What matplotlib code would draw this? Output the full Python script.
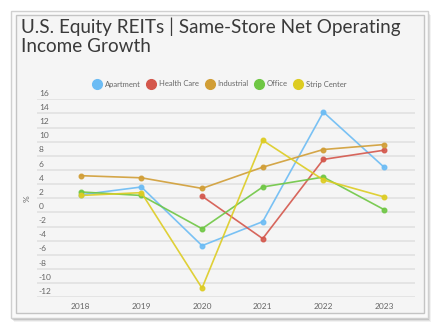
import matplotlib
matplotlib.use('Agg')
import matplotlib.pyplot as plt
from matplotlib.patches import Rectangle
from matplotlib.lines import Line2D

plt.rcParams['font.family'] = ['Lato', 'DejaVu Sans']

years = [2018, 2019, 2020, 2021, 2022, 2023]
apartment = [2.5, 3.6, -4.7, -1.3, 14.2, 6.4]
health_care_years = [2020, 2021, 2022, 2023]
health_care = [2.3, -3.7, 7.5, 8.8]
industrial = [5.2, 4.9, 3.4, 6.4, 8.9, 9.6]
office = [2.9, 2.4, -2.3, 3.6, 5.0, 0.4]
strip_center = [2.4, 2.8, -10.7, 10.2, 4.6, 2.2]

y_ticks = list(range(-12, 17, 2))

names = ['Apartment', 'Health Care', 'Industrial', 'Office', 'Strip Center']
colors = ['#6cbcf4', '#d4574c', '#d19e36', '#6fc744', '#ddcc22']

fig = plt.figure(figsize=(4.41, 3.31), dpi=100)
W, H = 441, 331

# card with soft shadow
for i, a in enumerate([0.05, 0.08, 0.12]):
    o = 3 - i
    fig.patches.append(Rectangle(((11 + o)/W, 1 - (318 + o + 1)/H), 417/W, 307/H,
                                 transform=fig.transFigure, facecolor='black',
                                 alpha=a, edgecolor='none', zorder=0))
fig.patches.append(Rectangle((11/W, 1 - 318/H), 417/W, 307/H, transform=fig.transFigure,
                             facecolor='#fafafa', edgecolor='#d0d0d0', lw=1, zorder=1))
fig.patches.append(Rectangle((16/W, 1 - 313/H), 408/W, 298/H, transform=fig.transFigure,
                             facecolor='#f5f5f5', edgecolor='#c4c4c4', lw=1, zorder=2))

fig.text(21/W, 1 - 18/H, 'U.S. Equity REITs | Same-Store Net Operating\nIncome Growth',
         fontsize=13.6, color='#3a3a3a', va='top', ha='left', linespacing=1.1, zorder=5)

ax = fig.add_axes([37/W, 1 - 297.3/H, 378/W, 198/H])
ax.set_facecolor('none')
ax.set_zorder(6)

series = [(years, apartment), (health_care_years, health_care), (years, industrial),
          (years, office), (years, strip_center)]
for (xs, ys), c in zip(series, colors):
    ax.plot(xs, ys, color=c, lw=1.2, marker='o', ms=3.3, alpha=0.9)

ax.set_xlim(2017.28, 2023.51)
ax.set_ylim(-12, 16)
ax.set_yticks(y_ticks)
ax.set_xticks(years)
ax.set_xticklabels([str(y) for y in years])
ax.grid(axis='y', color='#e4e4e4', lw=1.4)
ax.set_axisbelow(True)
for s in ax.spines.values():
    s.set_visible(False)
ax.tick_params(axis='x', length=0, labelsize=6, colors='#666666', pad=4)
ax.tick_params(axis='y', length=0, labelleft=False)
for t in y_ticks:
    ax.text(0.005, t + 0.35, str(t), transform=ax.get_yaxis_transform(), fontsize=6,
            color='#666666', va='bottom', ha='left')
ax.text(-0.025, 0.5, '%', transform=ax.transAxes, rotation=90, fontsize=6,
        color='#666666', va='center', ha='center')

handles = [Line2D([], [], color=c, marker='o', ls='none', ms=7) for c in colors]
fig.legend(handles, names, loc='center', bbox_to_anchor=(220/W, 1 - 84/H), ncol=5,
           frameon=False, fontsize=5.5, labelcolor='#666666', handletextpad=0.5,
           columnspacing=0.9, handlelength=1.0)

fig.savefig('out.png', dpi=100)
